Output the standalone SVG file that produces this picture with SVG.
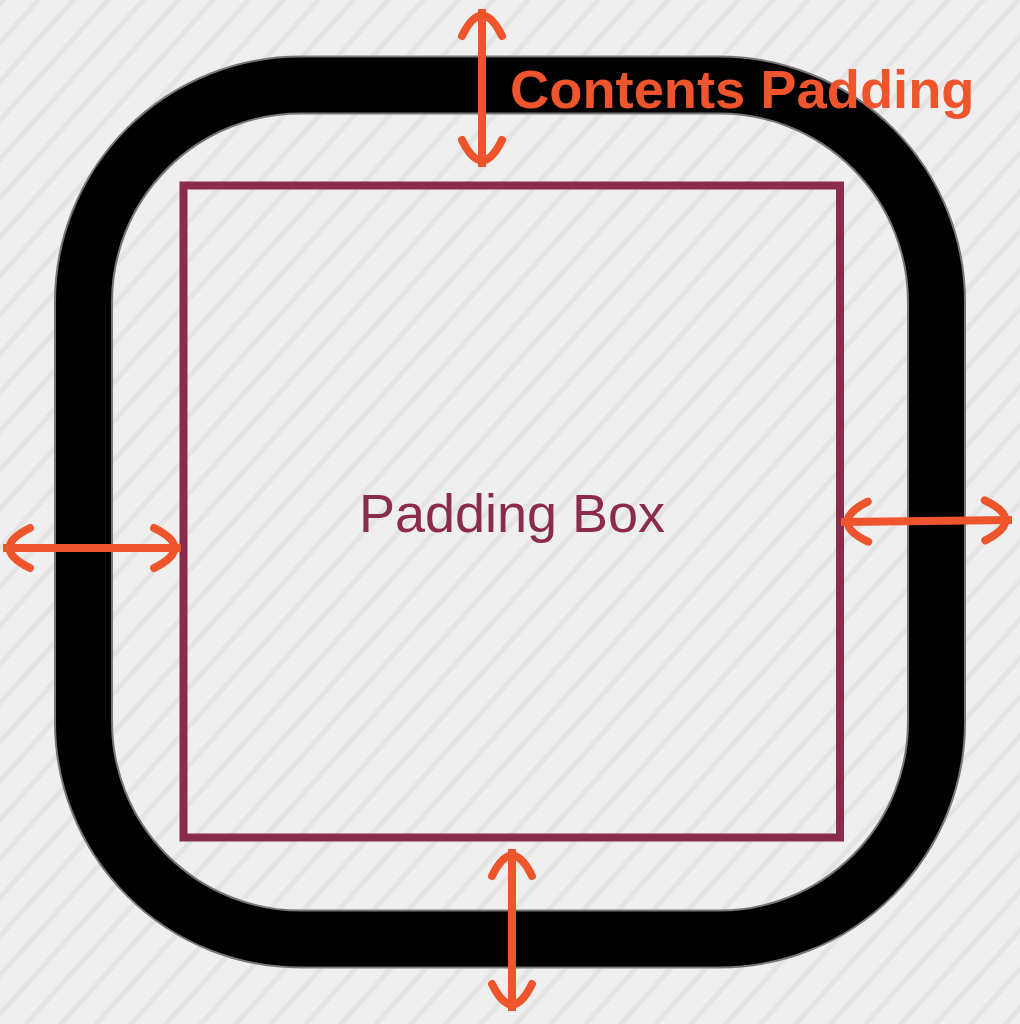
<svg xmlns="http://www.w3.org/2000/svg" width="1020" height="1024" viewBox="0 0 1020 1024">
  <defs>
    <pattern id="hatch" patternUnits="userSpaceOnUse" width="26" height="26" patternTransform="rotate(42)">
      <rect width="26" height="26" fill="#efefef"/>
      <rect x="0" y="0" width="5" height="26" fill="#e4e4e4"/>
    </pattern>
    <marker id="head" markerUnits="userSpaceOnUse" markerWidth="60" markerHeight="60" viewBox="-40 -30 60 60" refX="0" refY="0" orient="auto-start-reverse" overflow="visible">
      <path d="M -27 -20 Q 14 0 -27 20" fill="none" stroke="#ef552d" stroke-width="8" stroke-linecap="round"/>
    </marker>
    <style>
      .arrow { fill: none; stroke: #ef552d; stroke-width: 8; stroke-linecap: butt; marker-start: url(#head); marker-end: url(#head); }
    </style>
  </defs>
  <rect width="1020" height="1024" fill="url(#hatch)"/>
  <g id="contents-ring">
    <rect x="83.5" y="85" width="853" height="854" rx="217" ry="217" fill="none" stroke="#777" stroke-width="59"/>
    <rect x="83.5" y="85" width="853" height="854" rx="217" ry="217" fill="none" stroke="#000" stroke-width="55"/>
  </g>
  <g id="padding-box">
    <rect x="183.5" y="185.5" width="656.5" height="652" fill="none" stroke="#8b2c4f" stroke-width="8"/>
    <text x="512" y="532" text-anchor="middle" font-family="Liberation Sans, Arial, sans-serif" font-size="54" fill="#8b2c4f">Padding Box</text>
  </g>
  <g id="label">
    <text x="510" y="108" font-family="Liberation Sans, Arial, sans-serif" font-size="54.3" font-weight="bold" fill="#ef552d">Contents Padding</text>
  </g>
  <g id="connectors">
    <line class="arrow" x1="482" y1="9" x2="482" y2="167"/>
    <line class="arrow" x1="3" y1="548" x2="181" y2="548"/>
    <line class="arrow" x1="841" y1="522" x2="1012" y2="520"/>
    <line class="arrow" x1="512" y1="849" x2="512" y2="1011"/>
  </g>
</svg>
